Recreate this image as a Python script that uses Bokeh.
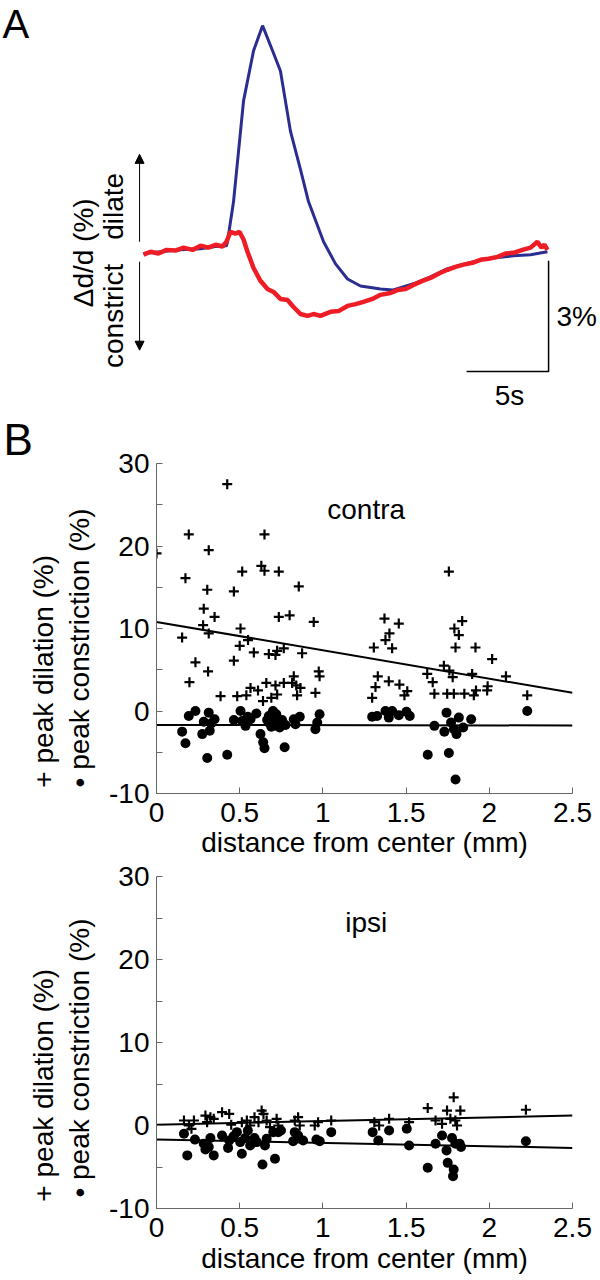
from bokeh.plotting import figure
from bokeh.models import (Label, Arrow, NormalHead, FixedTicker, PrintfTickFormatter, Range1d,
                          LinearAxis, Title)
from bokeh.embed import file_html
from bokeh.resources import INLINE

FONT = "Liberation Sans"

# ---------------- Panel A data (time in s, diameter change in %) ----------------
blue_t = [0.00, 1.04, 2.26, 3.48, 4.39, 5.06, 5.12, 5.49, 6.10, 6.71, 7.26, 7.87, 8.35, 8.96,
          9.57, 10.06, 10.98, 11.71, 12.44, 13.23, 14.45, 15.18, 16.46, 17.50, 18.54, 19.63,
          20.55, 21.59, 22.56, 23.60, 24.63]
blue_v = [-0.05, 0.00, 0.05, 0.08, 0.14, 0.16, 0.27, 1.36, 4.09, 5.45, 6.13, 5.45, 4.90, 3.27,
          2.23, 1.36, 0.27, -0.33, -0.74, -0.93, -1.01, -1.04, -0.87, -0.68, -0.46, -0.33,
          -0.22, -0.16, -0.11, -0.08, 0.00]

red_t = [0.00, 0.43, 0.91, 1.40, 1.95, 2.44, 2.99, 3.48, 3.96, 4.39, 4.82, 5.06, 5.30, 5.61,
         5.85, 6.10, 6.34, 6.71, 7.13, 7.56, 7.93, 8.35, 8.78, 9.15, 9.57, 10.00, 10.37, 10.79,
         11.40, 11.89, 12.44, 12.93, 13.41, 13.96, 14.45, 15.06, 15.49, 15.98, 16.46, 17.01,
         17.50, 18.11, 18.54, 19.02, 19.51, 20.06, 20.55, 21.04, 21.59, 22.07, 22.56, 23.11,
         23.60, 24.02, 24.27, 24.45, 24.63]
red_v = [-0.08, 0.00, -0.05, 0.05, 0.03, 0.11, 0.05, 0.16, 0.11, 0.19, 0.14, 0.27, 0.54, 0.49,
         0.54, 0.33, 0.00, -0.44, -0.79, -1.01, -1.09, -1.28, -1.31, -1.50, -1.69, -1.74, -1.69,
         -1.74, -1.63, -1.61, -1.47, -1.42, -1.36, -1.28, -1.17, -1.12, -1.04, -1.01, -0.90,
         -0.79, -0.71, -0.57, -0.49, -0.41, -0.35, -0.30, -0.22, -0.19, -0.14, -0.05, -0.03,
         0.05, 0.11, 0.27, 0.11, 0.19, 0.05]

scale_s = 5.0     # horizontal scale bar (s)
scale_pct = 3.0   # vertical scale bar (%)

# ---------------- Panel B data: contra ----------------
contra_dil_x = [0.00, 0.425, 0.194, 0.314, 0.174, 0.305, 0.284, 0.349, 0.28, 0.314, 0.154, 0.234,
                0.198, 0.31, 0.385, 0.649, 0.63, 0.649, 0.515, 0.735, 0.465, 0.855, 0.735, 0.80,
                0.945, 0.505, 0.55, 0.50, 0.465, 0.585, 0.485, 0.54, 0.565, 0.61, 0.64, 0.66,
                0.69, 0.725, 0.715, 0.765, 0.675, 0.715, 0.725, 0.765, 0.875, 0.825, 0.84, 0.845,
                0.865, 0.815, 0.955, 0.975, 0.98, 1.306, 1.296, 1.316, 1.33, 1.396, 1.46, 1.507,
                1.49, 1.376, 1.40, 1.416, 1.37, 1.456, 1.757, 1.627, 1.66, 1.67, 1.727, 1.76,
                1.78, 1.747, 1.787, 1.797, 1.79, 1.817, 1.837, 1.85, 1.907, 1.917, 1.897, 1.92,
                1.987, 1.99, 2.017, 2.10, 2.228]
contra_dil_y = [19.1, 27.5, 21.4, 19.5, 16.1, 14.7, 12.4, 11.4, 10.4, 9.4, 8.9, 5.9,
                3.5, 4.8, 1.8, 21.4, 17.6, 17.0, 16.9, 16.9, 14.5, 15.1, 11.4, 11.6,
                10.8, 10.0, 8.6, 7.9, 6.1, 7.1, 1.8, 1.9, 2.8, 2.5, 1.2, 3.4,
                1.6, 2.0, 3.1, 3.4, 6.9, 6.8, 7.3, 7.6, 7.0, 4.2, 3.1, 1.9,
                2.8, 3.4, 2.2, 4.8, 4.2, 7.7, 1.6, 2.9, 4.2, 3.6, 3.2, 2.4,
                1.9, 8.6, 9.4, 7.6, 11.2, 10.6, 16.9, 4.5, 3.5, 2.1, 5.5, 4.9,
                4.1, 2.1, 2.1, 7.7, 10.0, 9.2, 10.9, 2.1, 1.9, 7.7, 4.5, 2.5,
                2.5, 3.0, 6.3, 4.2, 1.9]
contra_con_x = [0.154, 0.174, 0.194, 0.234, 0.275, 0.284, 0.305, 0.314, 0.32, 0.329, 0.349, 0.425,
                0.465, 0.505, 0.515, 0.535, 0.549, 0.565, 0.60, 0.625, 0.641, 0.649, 0.665, 0.675,
                0.69, 0.70, 0.705, 0.715, 0.725, 0.741, 0.755, 0.77, 0.775, 0.825, 0.835, 0.861,
                0.955, 0.966, 0.98, 1.296, 1.326, 1.376, 1.396, 1.416, 1.456, 1.502, 1.522, 1.63,
                1.67, 1.73, 1.743, 1.757, 1.77, 1.787, 1.803, 1.797, 1.817, 1.843, 1.891, 2.228,
                0.72, 0.68, 0.74]
contra_con_y = [-2.5, -3.9, -0.6, 0.0, -2.8, -1.3, -5.7, -0.2, -2.4, -1.5, -1.0, -5.3,
                -1.1, 0.0, -1.2, -1.8, -0.7, -1.0, -0.3, -2.8, -3.8, -4.5, -1.1, -0.6,
                -1.9, 0.0, -1.2, -0.8, -1.8, -1.4, -1.1, -4.4, -1.7, -1.0, -1.6, -0.7,
                -2.2, -1.4, -0.4, -0.7, -0.6, 0.0, -0.8, 0.0, -0.5, -0.1, -0.6, -5.3,
                -1.8, -2.5, -0.2, -5.1, -1.4, -2.2, -2.8, -8.3, -0.8, -2.0, -1.0, 0.0,
                -0.4, -1.5, -2.0]

# ---------------- Panel B data: ipsi ----------------
ipsi_dil_x = [0.165, 0.195, 0.225, 0.21, 0.294, 0.304, 0.324, 0.344, 0.394, 0.437, 0.449, 0.513,
              0.543, 0.563, 0.589, 0.613, 0.632, 0.643, 0.662, 0.682, 0.722, 0.732, 0.831, 0.851,
              0.861, 0.951, 0.971, 1.05, 1.309, 1.338, 1.398, 1.518, 1.63, 1.677, 1.716, 1.746,
              1.786, 1.766, 1.796, 1.826, 1.806, 2.22]
ipsi_dil_y = [0.6, 0.0, 0.6, -0.4, 1.2, 0.4, 1.0, 0.8, 1.6, 1.4, 0.1, 0.4,
              0.6, 0.0, 1.0, 0.4, 1.8, 1.4, 0.6, -0.2, 0.8, 0.0, 0.6, 1.0,
              0.0, 0.0, 0.4, 0.6, 0.4, 0.0, 0.8, 0.4, 2.1, 0.6, 0.2, 1.8,
              3.4, 0.8, 0.6, 1.8, 0.0, 1.9]
ipsi_con_x = [0.165, 0.185, 0.231, 0.284, 0.294, 0.324, 0.314, 0.344, 0.394, 0.43, 0.437, 0.463,
              0.483, 0.503, 0.513, 0.533, 0.549, 0.563, 0.589, 0.603, 0.637, 0.652, 0.662, 0.712,
              0.702, 0.732, 0.748, 0.821, 0.831, 0.851, 0.881, 0.961, 0.981, 1.05, 1.299, 1.333,
              1.398, 1.504, 1.518, 1.63, 1.677, 1.716, 1.743, 1.75, 1.776, 1.786, 1.782, 1.796,
              1.822, 1.83, 2.22]
ipsi_con_y = [-1.0, -3.6, -1.7, -2.2, -2.9, -1.5, -2.6, -3.6, -1.2, -2.7, -1.8, -1.3,
              -0.8, -2.0, -3.4, -1.5, -0.6, -2.4, -1.5, -2.0, -4.7, -2.4, -1.6, -4.0,
              -0.8, -0.8, -0.6, -1.9, -0.8, -1.2, -1.8, -1.7, -1.9, -0.8, -0.8, -1.8,
              -0.6, -0.4, -2.4, -5.1, -2.2, -1.2, -3.0, -4.5, -1.5, -5.3, -6.1, -2.2,
              -2.2, -2.6, -1.9]

# regression lines (end points at x = 0 and 2.5 mm)
fit_x = [0.0, 2.5]
contra_dil_fit = [10.8, 2.2]
contra_con_fit = [-1.7, -1.75]
ipsi_dil_fit = [0.1, 1.2]
ipsi_con_fit = [-1.7, -2.7]

y_ticks = [-10, 0, 10, 20, 30]
y_minor = [-5, 5, 15, 25]
x_ticks = [0, 0.5, 1, 1.5, 2, 2.5]

BLUE = "#2b2d91"
RED = "#ee1c25"
NB = "\u00a0"

# ---------------- Panel A figure ----------------
pa = figure(width=600, height=412, x_range=Range1d(-8.720, 27.866), y_range=Range1d(-4.360, 6.812),
            output_backend="svg", toolbar_location=None, x_axis_type=None, y_axis_type=None,
            min_border=0, title=None)
pa.grid.visible = False
pa.outline_line_color = None
pa.line(blue_t, blue_v, line_color=BLUE, line_width=3)
pa.line(red_t, red_v, line_color=RED, line_width=4.5)

bar_t, bar_v = 24.70, -3.245
pa.line([bar_t - scale_s, bar_t, bar_t], [bar_v, bar_v, bar_v + scale_pct], line_color="black", line_width=1.5)

for (y0, y1) in [(0.27, 2.64), (-0.27, -2.67)]:
    pa.add_layout(Arrow(end=NormalHead(size=9, fill_color="black", line_color="black"),
                        x_start=-0.24, y_start=y0, x_end=-0.24, y_end=y1,
                        line_color="black", line_width=1))

def lab(p, x, y, text, size="28px", angle=0.0, align="center", baseline="middle"):
    p.add_layout(Label(x=x, y=y, text=text, angle=angle, text_align=align, text_baseline=baseline,
                       text_font=FONT, text_font_size=size, text_color="black"))

lab(pa, -8.60, 6.185, "A", size="40px", align="left")
lab(pa, -3.66, -0.03, "Δd/d (%)", angle=1.5708)
lab(pa, -1.83, 1.23, "dilate", angle=1.5708)
lab(pa, -1.83, -1.74, "constrict", angle=1.5708)
lab(pa, 25.18, -1.77, "3%", align="left")
lab(pa, 22.32, -3.896, "5s")

# ---------------- Panel B figures ----------------
def scatter_fig(height, top, bottom, xlab_standoff, dx, dy, cx, cy, fd, fc, title_text, pad_d, pad_c, b_title=False):
    ttl = None
    if b_title:
        ttl = Title(text="B", text_font=FONT, text_font_size="44px", text_font_style="normal",
                    align="left", offset=-153, standoff=0, text_color="black")
    p = figure(width=600, height=height, x_range=Range1d(0, 2.5), y_range=Range1d(-10, 30),
               output_backend="svg", toolbar_location=None, title=ttl,
               min_border_left=156, min_border_right=28, min_border_top=top, min_border_bottom=bottom)
    p.grid.visible = False
    p.outline_line_color = None
    for ax in (p.xaxis[0], p.yaxis[0]):
        ax.axis_line_color = "#666666"
        ax.major_tick_line_color = "#666666"
        ax.minor_tick_line_color = "#666666"
        ax.major_tick_in = 6
        ax.major_tick_out = 0
        ax.minor_tick_in = 6
        ax.minor_tick_out = 0
        ax.major_label_text_font = FONT
        ax.major_label_text_font_size = "28px"
        ax.major_label_text_color = "black"
        ax.axis_label_text_font = FONT
        ax.axis_label_text_font_size = "28px"
        ax.axis_label_text_font_style = "normal"
        ax.axis_label_text_color = "black"
        ax.formatter = PrintfTickFormatter(format="%g")
    p.yaxis[0].ticker = FixedTicker(ticks=y_ticks, minor_ticks=y_minor)
    p.xaxis[0].ticker = FixedTicker(ticks=x_ticks, minor_ticks=[])
    p.yaxis[0].major_label_standoff = 7
    p.xaxis[0].major_label_standoff = 9
    p.xaxis[0].axis_label = "distance from center (mm)"
    p.xaxis[0].axis_label_standoff = xlab_standoff
    p.yaxis[0].axis_label = "• peak constriction (%)" + NB * pad_c
    p.yaxis[0].axis_label_standoff = 11

    outer = LinearAxis(axis_label="+ peak dilation (%)" + NB * pad_d,
                       ticker=FixedTicker(ticks=[], minor_ticks=[]),
                       axis_line_color=None, major_tick_line_color=None, minor_tick_line_color=None,
                       major_label_standoff=0, axis_label_standoff=3,
                       axis_label_text_font=FONT, axis_label_text_font_size="28px",
                       axis_label_text_font_style="normal", axis_label_text_color="black")
    p.add_layout(outer, "left")

    p.line(fit_x, fd, line_color="black", line_width=2)
    p.line(fit_x, fc, line_color="black", line_width=2)
    p.scatter(cx, cy, marker="circle", size=10, fill_color="black", line_color=None)
    p.scatter(dx, dy, marker="cross", size=10, line_color="black", line_width=2.2)

    lab(p, 1.26, 24.46, title_text)
    return p

pb = scatter_fig(448, 50, 67, 2, contra_dil_x, contra_dil_y, contra_con_x, contra_con_y,
                 contra_dil_fit, contra_con_fit, "contra", 11, 5, b_title=True)
pc = scatter_fig(420, 16, 72, 3, ipsi_dil_x, ipsi_dil_y, ipsi_con_x, ipsi_con_y,
                 ipsi_dil_fit, ipsi_con_fit, "ipsi", 11, 4)

p = [pa, pb, pc]
open("out.html", "w").write(file_html(p, INLINE))
